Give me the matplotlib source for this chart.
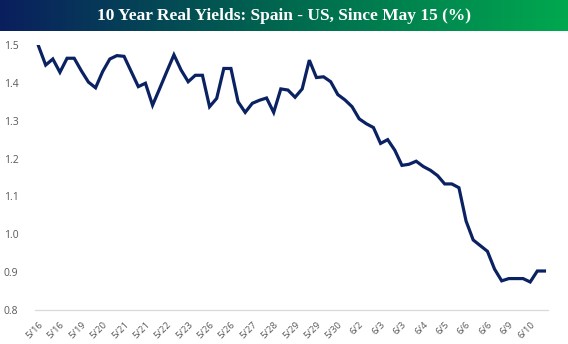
import numpy as np
import matplotlib
matplotlib.use("Agg")
import matplotlib.pyplot as plt
from matplotlib.colors import LinearSegmentedColormap

title = "10 Year Real Yields: Spain - US, Since May 15 (%)"

values = [1.497, 1.447, 1.463, 1.428, 1.465, 1.465, 1.432, 1.402, 1.387, 1.430,
          1.463, 1.472, 1.470, 1.430, 1.390, 1.399, 1.341, 1.385, 1.430, 1.474,
          1.434, 1.403, 1.420, 1.420, 1.337, 1.359, 1.438, 1.438, 1.350, 1.322,
          1.346, 1.354, 1.360, 1.322, 1.384, 1.381, 1.362, 1.384, 1.460, 1.414,
          1.416, 1.403, 1.369, 1.355, 1.337, 1.305, 1.292, 1.282, 1.240, 1.250,
          1.222, 1.182, 1.185, 1.193, 1.179, 1.169, 1.155, 1.133, 1.133, 1.123,
          1.035, 0.985, 0.970, 0.955, 0.908, 0.877, 0.883, 0.883, 0.883, 0.874,
          0.903, 0.903]

tick_labels = ["5/16", "5/16", "5/19", "5/20", "5/21", "5/21", "5/22", "5/23",
               "5/26", "5/26", "5/27", "5/28", "5/29", "5/29", "5/30", "6/2",
               "6/3", "6/3", "6/4", "6/5", "6/6", "6/6", "6/9", "6/10"]
tick_every = 3

y_ticks = [0.8, 0.9, 1.0, 1.1, 1.2, 1.3, 1.4, 1.5]

W, H = 568, 344
fig = plt.figure(figsize=(W / 100, H / 100), dpi=100)

# title banner
bax = fig.add_axes([0, 1 - 31 / H, 1, 31 / H])
cmap = LinearSegmentedColormap.from_list("banner", ["#0a1f5e", "#00684e", "#00a850"])
grad = np.linspace(0, 1, 256).reshape(1, -1)
bax.imshow(grad, aspect="auto", cmap=cmap, extent=[0, 1, 0, 1])
bax.set_axis_off()
bax.text(0.5, 0.5, title, color="white", ha="center", va="center",
         fontsize=12.5, fontfamily="Liberation Serif", fontweight="bold")

ax = fig.add_axes([35 / W, 1 - 310 / H, (548 - 35) / W, (310 - 45) / H])
x = np.arange(len(values))
ax.plot(x, values, color="#0b2262", lw=2.3, solid_joinstyle="miter")
ax.set_xlim(-0.5, len(values) - 0.5)
ax.set_ylim(0.8, 1.5)
ax.set_yticks(y_ticks)
ax.set_yticklabels([f"{v:.1f}" for v in y_ticks])
ticks = x[::tick_every][:len(tick_labels)]
ax.set_xticks(ticks)
ax.set_xticklabels(tick_labels, rotation=45, ha="right", rotation_mode="anchor")

for s in ["top", "right", "left"]:
    ax.spines[s].set_visible(False)
ax.spines["bottom"].set_color("#d9d9d9")
ax.spines["bottom"].set_linewidth(0.9)
ax.tick_params(axis="both", length=0, colors="#595959", labelsize=7.5)
ax.tick_params(axis="x", labelsize=6.8, pad=7)
ax.tick_params(axis="y", pad=12)
for lbl in ax.get_xticklabels() + ax.get_yticklabels():
    lbl.set_fontfamily("Open Sans")

fig.savefig("out.png", dpi=100)
